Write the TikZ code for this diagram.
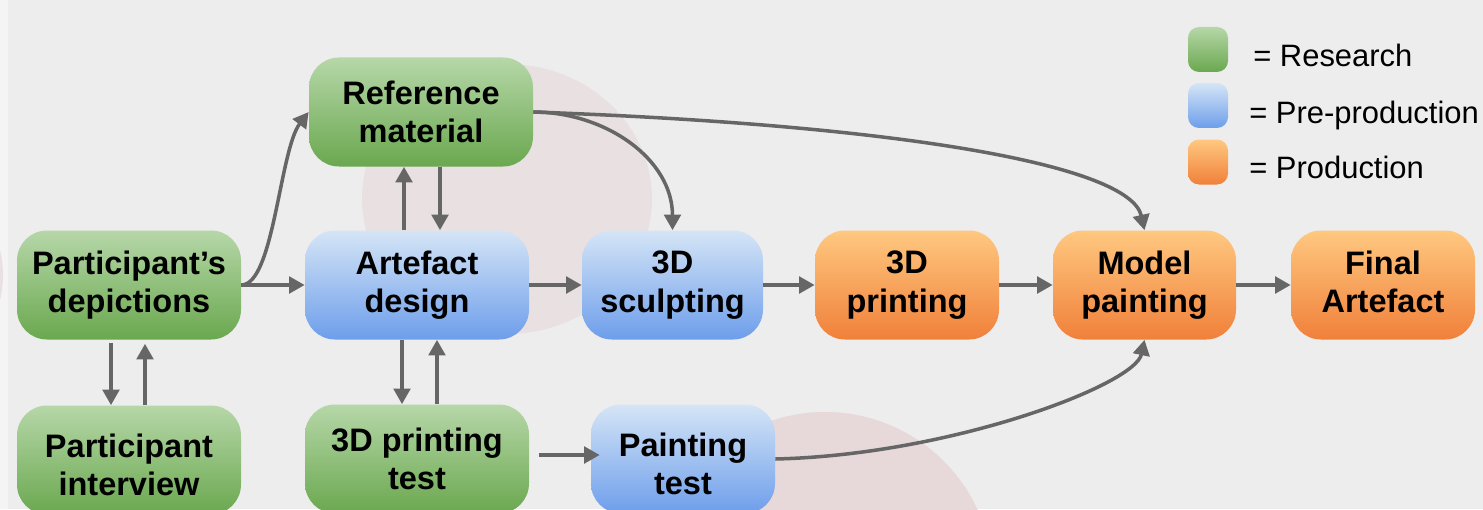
\documentclass[tikz,border=0pt]{standalone}
\usepackage{fontspec}
\setmainfont{Liberation Sans}
\usetikzlibrary{arrows.meta}

\definecolor{bggrey}{HTML}{EDEDED}
\definecolor{edgegrey}{HTML}{F4F4F4}
\definecolor{pinkA}{HTML}{E9E0E1}
\definecolor{pinkB}{HTML}{E7D8D9}
\definecolor{resTop}{HTML}{B6D7A8}
\definecolor{resBot}{HTML}{6AA84F}
\definecolor{preTop}{HTML}{D5E5F6}
\definecolor{preBot}{HTML}{6D9EEB}
\definecolor{proTop}{HTML}{FFC880}
\definecolor{proBot}{HTML}{F0803A}
\definecolor{arrowgrey}{HTML}{666666}

\begin{document}
\begin{tikzpicture}[
	stage/.style={rectangle, rounded corners=0.6cm, minimum width=4.48cm, minimum height=2.18cm, inner sep=0pt, align=center, font=\bfseries\fontsize{18.5}{22}\selectfont},
	research/.style={stage, top color=resTop, bottom color=resBot},
	preprod/.style={stage, top color=preTop, bottom color=preBot},
	prod/.style={stage, top color=proTop, bottom color=proBot},
	swatch/.style={rectangle, rounded corners=0.22cm, minimum width=0.8cm, minimum height=0.9cm, inner sep=0pt},
	keytext/.style={anchor=base west, inner sep=0pt, font=\fontsize{17.6}{20}\selectfont},
	flow/.style={draw=arrowgrey, line width=2pt, -{Triangle[length=8.8pt, width=9.4pt]}}
]
	\useasboundingbox (0,0) rectangle (29.66,10.18);

	% Background
	\fill[bggrey] (0,0) rectangle (29.66,10.18);
	\fill[edgegrey] (0,0) rectangle (0.16,10.18);
	\fill[pinkA] (-2,4.68) circle (2.06cm);
	\fill[pinkA] (10.14,6.2) ellipse (2.9cm and 2.7cm);
	\fill[pinkB] (16.5,-1.42) circle (3.36cm);

	% Research stages
	\node[research] (depict) at (2.58,4.48) {Participant’s\\depictions};
	\node[research] (interview) at (2.58,0.98) {\rule{0pt}{19pt}Participant\\interview};
	\node[research] (refmat) at (8.42,7.94) {Reference\\material};
	\node[research] (printtest) at (8.34,1.0) {3D printing\\test};

	% Pre-production stages
	\node[preprod] (design) at (8.34,4.48) {Artefact\\design};
	\node[preprod, minimum width=3.62cm] (sculpt) at (13.45,4.48) {3D\\sculpting};
	\node[preprod, minimum width=3.68cm] (painttest) at (13.66,1.0) {\rule{0pt}{19pt}Painting\\test};

	% Production stages
	\node[prod, minimum width=3.68cm] (printing) at (18.14,4.48) {3D\\printing};
	\node[prod, minimum width=3.66cm] (modelpaint) at (22.89,4.48) {Model\\painting};
	\node[prod, minimum width=3.68cm] (final) at (27.66,4.48) {Final\\Artefact\vphantom{g}};

	% Legend
	\node[swatch, top color=resTop, bottom color=resBot] (keyres) at (24.16,9.19) {};
	\node[swatch, top color=preTop, bottom color=preBot] (keypre) at (24.16,8.07) {};
	\node[swatch, top color=proTop, bottom color=proBot] (keypro) at (24.16,6.94) {};
	\node[keytext] (keyrestext) at (25.06,8.84) {= Research};
	\node[keytext] (keypretext) at (24.98,7.72) {= Pre-production};
	\node[keytext] (keyprotext) at (24.98,6.62) {= Production};

	% Arrows between stages
	\draw[flow] (depict.east) -- (design.west);
	\draw[flow] (depict.east) .. controls +(0.65,0) and +(-0.58,-0.76) .. (refmat.west);
	\draw[flow] ([xshift=-0.36cm,yshift=-0.06cm]depict.south) -- ([xshift=-0.36cm]interview.north);
	\draw[flow] ([xshift=0.32cm]interview.north) -- ([xshift=0.32cm,yshift=-0.08cm]depict.south);
	\draw[flow] ([xshift=-0.26cm]design.north) -- ([xshift=-0.26cm]design.north |- refmat.south);
	\draw[flow] ([xshift=0.46cm]design.north |- refmat.south) -- ([xshift=0.46cm]design.north);
	\draw[flow] ([xshift=-0.3cm]design.south) -- ([xshift=-0.3cm]printtest.north);
	\draw[flow] ([xshift=0.4cm]printtest.north) -- ([xshift=0.4cm]design.south);
	\draw[flow] (design.east) -- (sculpt.west);
	\draw[flow] (refmat.east) to[out=0, in=90] (sculpt.north);
	\draw[flow] (refmat.east) .. controls (18,7.68) and (22.6,6.88) .. (modelpaint.north);
	\draw[flow] (sculpt.east) -- (printing.west);
	\draw[flow] (printing.east) -- (modelpaint.west);
	\draw[flow] (modelpaint.east) -- (final.west);
	\draw[flow] ([xshift=0.2cm,yshift=0.08cm]printtest.east) -- ([xshift=0.18cm,yshift=0.08cm]painttest.west);
	\draw[flow] (painttest.east) .. controls (19,1.08) and (22.7,2.48) .. (modelpaint.south);
\end{tikzpicture}
\end{document}
